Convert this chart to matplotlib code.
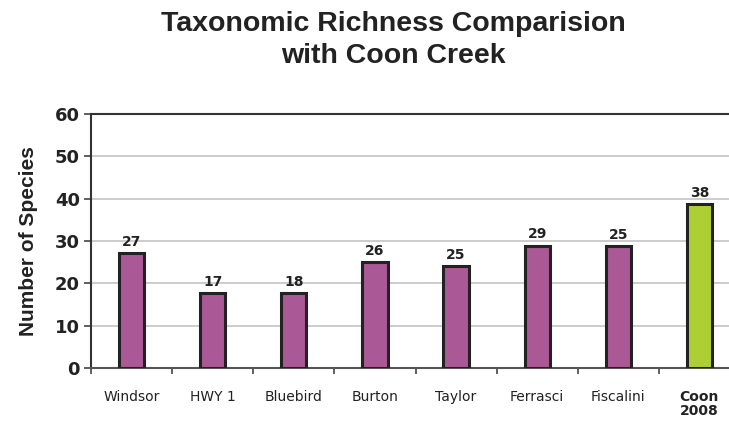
import matplotlib
matplotlib.use('Agg')
import matplotlib.pyplot as plt

sites = ['Windsor', 'HWY 1', 'Bluebird', 'Burton', 'Taylor', 'Ferrasci', 'Fiscalini', 'Coon\n2008']
# bar heights as drawn in the picture
bar_heights = [27.2, 17.6, 17.6, 25.0, 24.1, 28.9, 28.8, 38.7]
# numbers printed above the bars
species_labels = [27, 17, 18, 26, 25, 29, 25, 38]
bar_colors = ['#AA5896'] * 7 + ['#ADCF34']
y_ticks = [0, 10, 20, 30, 40, 50, 60]

fig = plt.figure(figsize=(7.29, 4.23), dpi=100)
ax = fig.add_axes([91 / 729, 55 / 423, 649 / 729, 254 / 423])

x = list(range(len(sites)))
bars = ax.bar(x, bar_heights, width=0.31, color=bar_colors,
              edgecolor='#222222', linewidth=2.2, zorder=3)

for b, lab in zip(bars, species_labels):
    ax.annotate(str(lab), (b.get_x() + b.get_width() / 2, b.get_height()),
                xytext=(0, 3), textcoords='offset points',
                ha='center', va='bottom', fontsize=10, fontweight='bold',
                family='DejaVu Sans', color='#222222')

ax.set_xlim(-0.5, len(sites) - 0.5)
ax.set_ylim(0, 60)
ax.set_yticks(y_ticks)
ax.set_yticklabels([str(v) for v in y_ticks], fontsize=13, fontweight='bold',
                   family='DejaVu Sans', color='#222222')

ax.set_xticks([i - 0.5 for i in x], minor=False)
ax.set_xticklabels([])
ax.set_xticks(x, minor=True)
ax.set_xticklabels(sites, minor=True, fontsize=10, family='DejaVu Sans', color='#222222',
                   va='top', linespacing=0.95)
ax.tick_params(axis='x', which='minor', length=0, pad=16)
ax.tick_params(axis='x', which='major', length=4, color='#444444', width=1.2)
ax.tick_params(axis='y', length=5, color='#444444', width=1.2, pad=3)
for t in ax.get_xticklabels(minor=True):
    if t.get_text().startswith('Coon'):
        t.set_fontweight('bold')

ax.grid(axis='y', color='#C4C4C4', linewidth=1.2, zorder=0)
ax.spines['right'].set_visible(False)
ax.spines['top'].set_color('#333333')
ax.spines['top'].set_linewidth(1.5)
ax.spines['left'].set_color('#333333')
ax.spines['left'].set_linewidth(1.5)
ax.spines['bottom'].set_color('#555555')
ax.spines['bottom'].set_linewidth(1.5)

ax.set_ylabel('Number of Species', fontsize=15, fontweight='bold',
              family='Liberation Sans', color='#222222', labelpad=12)

fig.text(393 / 729, 1 - 40 / 423, 'Taxonomic Richness Comparision\nwith Coon Creek',
         ha='center', va='center', fontsize=20.5, fontweight='bold',
         family='Liberation Sans', color='#222222', linespacing=1.3)

fig.savefig('out.png', dpi=100)
